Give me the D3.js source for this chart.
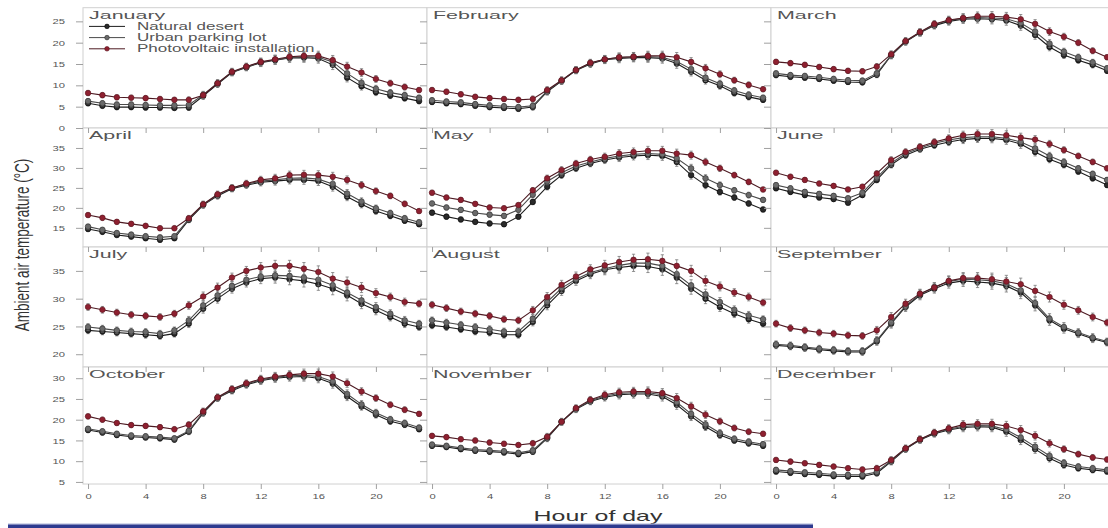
<!DOCTYPE html>
<html lang="en">
<head>
  <meta charset="UTF-8" />
  <title>Ambient air temperature by hour of day</title>
  <script src="https://d3js.org/d3.v7.min.js"></script>
  <style>
    body {
      margin: 0;
      background: #fff;
    }

    svg {
      display: block;
      font-family: "Liberation Sans", Arial, sans-serif;
    }

    .frame {
      fill: #fff;
      stroke: #d0d0d0;
      stroke-width: 1px;
    }

    .axis line {
      stroke: #a0a0a0;
    }

    .axis text {
      fill: #555;
      font-size: 8px;
    }

    .title {
      fill: #555;
      font-size: 11px;
    }

    .legend-text {
      fill: #555;
      font-size: 10px;
    }

    .err {
      stroke: #777;
      stroke-width: 0.8px;
    }
  </style>
</head>
<body>
  <svg id="chart" width="1108" height="528"></svg>

  <script>
    const months = ["January", "February", "March", "April", "May", "June",
                    "July", "August", "September", "October", "November", "December"];
    const hours = [0, 1, 2, 3, 4, 5, 6, 7, 8, 9, 10, 11, 12, 13, 14, 15, 16, 17, 18, 19, 20, 21, 22, 23];
    const hourTicks = [0, 4, 8, 12, 16, 20];

    // one row of 24 hourly means per month
    const naturalDesert = [
      [5.8, 5.2, 4.9, 4.9, 4.8, 4.8, 4.7, 4.8, 7.5, 10.3, 13.0, 14.2, 15.3, 15.9, 16.4, 16.5, 16.3, 14.8, 11.8, 9.8, 8.4, 7.6, 7.0, 6.3],
      [6.1, 5.8, 5.6, 5.2, 4.9, 4.7, 4.5, 4.9, 8.5, 11.0, 13.5, 15.0, 16.0, 16.3, 16.5, 16.5, 16.3, 15.1, 13.2, 11.2, 9.9, 8.2, 7.3, 6.6],
      [12.4, 12.0, 11.8, 11.5, 11.1, 10.8, 10.7, 12.5, 17.0, 20.2, 22.3, 24.0, 25.0, 25.5, 25.6, 25.5, 25.2, 24.0, 21.8, 19.0, 17.1, 15.9, 14.8, 13.4],
      [14.7, 14.0, 13.2, 12.8, 12.4, 12.0, 12.4, 17.0, 20.7, 23.0, 24.8, 25.7, 26.4, 26.7, 27.0, 27.0, 26.7, 25.3, 22.8, 20.9, 19.2, 18.0, 16.8, 15.9],
      [18.8, 17.8, 17.1, 16.5, 16.1, 15.9, 17.8, 21.5, 25.3, 28.2, 29.9, 31.1, 32.0, 32.6, 33.0, 33.2, 33.0, 31.5, 28.2, 25.7, 24.0, 22.6, 21.1, 19.6],
      [24.9, 24.0, 23.2, 22.6, 22.2, 21.3, 23.2, 27.0, 30.8, 33.2, 34.7, 35.7, 36.5, 37.1, 37.4, 37.4, 37.0, 36.0, 34.0, 32.2, 30.8, 29.1, 27.4, 25.7],
      [24.3, 24.1, 23.9, 23.7, 23.5, 23.3, 23.7, 25.5, 28.2, 30.0, 31.8, 32.9, 33.6, 33.8, 33.5, 33.2, 32.6, 31.8, 30.6, 29.1, 27.9, 26.7, 25.5, 24.9],
      [25.2, 24.9, 24.5, 24.1, 23.9, 23.5, 23.5, 25.8, 28.8, 31.4, 33.2, 34.4, 35.2, 35.6, 35.9, 35.8, 35.3, 33.8, 31.8, 30.0, 28.5, 27.3, 26.3, 25.5],
      [21.6, 21.4, 21.1, 20.8, 20.6, 20.4, 20.4, 22.3, 25.5, 28.5, 30.6, 31.8, 32.8, 33.2, 33.0, 32.8, 32.3, 31.1, 28.8, 26.1, 24.6, 23.7, 22.8, 22.1],
      [17.5, 16.9, 16.3, 15.9, 15.7, 15.5, 15.2, 17.1, 21.6, 25.2, 27.0, 28.4, 29.4, 30.0, 30.3, 30.4, 30.0, 28.7, 25.6, 23.2, 21.2, 19.6, 18.8, 17.7],
      [13.7, 13.4, 12.9, 12.5, 12.3, 12.1, 11.7, 12.3, 15.5, 19.5, 22.5, 24.4, 25.4, 26.0, 26.2, 26.2, 25.6, 23.6, 20.8, 18.3, 16.3, 15.0, 14.3, 13.7],
      [7.5, 7.2, 6.9, 6.7, 6.4, 6.3, 6.3, 7.1, 9.9, 12.9, 15.1, 16.6, 17.5, 18.1, 18.3, 18.2, 17.1, 15.1, 12.9, 10.7, 9.1, 8.3, 7.9, 7.5]
    ];

    const parkingLot = [
      [6.3, 5.8, 5.5, 5.5, 5.4, 5.3, 5.3, 5.4, 7.8, 10.5, 13.1, 14.3, 15.4, 16.0, 16.5, 16.7, 16.6, 15.5, 12.8, 10.6, 9.2, 8.3, 7.7, 7.1],
      [6.5, 6.2, 6.0, 5.6, 5.3, 5.1, 4.9, 5.2, 8.7, 11.1, 13.6, 15.2, 16.1, 16.5, 16.7, 16.7, 16.6, 15.6, 13.8, 11.8, 10.4, 8.8, 7.8, 7.1],
      [12.8, 12.4, 12.2, 11.9, 11.5, 11.2, 11.1, 12.8, 17.1, 20.3, 22.4, 24.2, 25.2, 25.7, 25.9, 25.8, 25.6, 24.6, 22.6, 19.8, 17.9, 16.6, 15.4, 14.0],
      [15.3, 14.5, 13.7, 13.3, 12.9, 12.6, 12.9, 17.2, 20.8, 23.2, 25.0, 25.9, 26.7, 27.0, 27.4, 27.5, 27.2, 26.0, 23.6, 21.6, 19.9, 18.7, 17.4, 16.4],
      [21.1, 20.1, 19.5, 18.7, 18.3, 18.0, 19.5, 23.3, 26.6, 28.8, 30.5, 31.5, 32.4, 33.0, 33.4, 33.6, 33.4, 32.4, 29.9, 27.4, 25.7, 24.4, 23.2, 22.0],
      [25.7, 24.9, 24.0, 23.5, 23.0, 22.4, 23.8, 27.6, 31.2, 33.6, 35.0, 36.2, 37.0, 37.6, 37.8, 37.8, 37.4, 36.5, 34.9, 33.0, 31.5, 29.9, 28.5, 27.0],
      [24.9, 24.6, 24.3, 24.1, 24.0, 23.7, 24.3, 26.1, 28.8, 30.6, 32.3, 33.4, 34.0, 34.2, 34.1, 33.8, 33.4, 32.4, 31.1, 29.7, 28.5, 27.3, 26.1, 25.5],
      [26.1, 25.7, 25.3, 24.9, 24.5, 24.1, 24.1, 26.4, 29.4, 31.9, 33.5, 34.7, 35.4, 36.0, 36.4, 36.4, 35.9, 34.4, 32.4, 30.8, 29.4, 28.0, 27.0, 26.3],
      [21.8, 21.6, 21.3, 21.0, 20.8, 20.6, 20.6, 22.5, 25.7, 28.7, 30.8, 32.1, 33.1, 33.5, 33.4, 33.2, 32.7, 31.5, 29.2, 26.4, 24.9, 23.9, 23.0, 22.3],
      [17.8, 17.2, 16.6, 16.2, 16.0, 15.8, 15.5, 17.3, 21.8, 25.3, 27.2, 28.6, 29.6, 30.2, 30.6, 30.7, 30.4, 29.2, 26.2, 23.7, 21.7, 20.1, 19.2, 18.1],
      [14.0, 13.7, 13.2, 12.8, 12.6, 12.4, 12.0, 12.6, 15.7, 19.5, 22.6, 24.6, 25.7, 26.3, 26.5, 26.5, 26.0, 24.2, 21.4, 18.9, 16.8, 15.4, 14.7, 14.1],
      [7.9, 7.6, 7.3, 7.1, 6.8, 6.7, 6.7, 7.4, 10.1, 13.0, 15.2, 16.8, 17.7, 18.4, 18.6, 18.5, 17.6, 15.7, 13.5, 11.3, 9.6, 8.7, 8.3, 7.9]
    ];

    const pvPlant = [
      [8.2, 7.7, 7.2, 7.1, 7.0, 6.8, 6.6, 6.6, 7.7, 10.5, 13.2, 14.4, 15.5, 16.1, 16.7, 16.9, 16.9, 15.9, 14.4, 13.0, 11.5, 10.5, 9.6, 8.9],
      [8.9, 8.5, 7.9, 7.3, 7.0, 6.8, 6.6, 6.8, 8.9, 11.2, 13.6, 15.3, 16.1, 16.6, 16.7, 16.9, 16.9, 16.6, 15.5, 14.0, 12.6, 11.2, 10.1, 9.1],
      [15.5, 15.2, 14.8, 14.3, 13.8, 13.4, 13.3, 14.4, 17.3, 20.4, 22.5, 24.4, 25.3, 25.8, 26.2, 26.2, 26.0, 25.5, 24.4, 22.6, 21.4, 20.0, 18.1, 16.6],
      [18.2, 17.5, 16.5, 16.0, 15.5, 14.9, 14.9, 17.4, 20.9, 23.4, 25.0, 26.1, 27.0, 27.4, 28.2, 28.3, 28.2, 27.8, 27.0, 25.7, 24.2, 23.0, 21.0, 19.2],
      [23.8, 22.6, 22.0, 21.0, 20.1, 19.9, 20.7, 24.4, 27.4, 29.5, 31.1, 32.1, 32.8, 33.6, 34.0, 34.3, 34.3, 33.6, 33.2, 31.5, 29.9, 28.2, 26.5, 24.6],
      [28.8, 27.8, 27.0, 26.1, 25.5, 24.6, 25.3, 28.6, 32.0, 34.0, 35.3, 36.5, 37.4, 38.2, 38.5, 38.5, 38.2, 37.6, 37.1, 36.0, 34.5, 33.0, 31.5, 29.9],
      [28.5, 28.0, 27.5, 27.1, 26.9, 26.7, 27.3, 28.8, 30.4, 32.0, 33.8, 35.0, 35.6, 35.9, 35.9, 35.4, 34.8, 33.6, 32.9, 32.0, 31.0, 30.3, 29.4, 29.1],
      [28.9, 28.3, 27.7, 27.3, 26.9, 26.3, 26.1, 27.9, 30.3, 32.5, 34.0, 35.3, 36.0, 36.6, 37.0, 37.1, 36.8, 35.9, 35.0, 33.2, 32.2, 31.1, 30.3, 29.3],
      [25.5, 24.7, 24.3, 23.9, 23.7, 23.4, 23.3, 24.3, 26.7, 29.1, 30.9, 32.0, 33.2, 33.7, 33.7, 33.5, 33.1, 32.6, 31.4, 30.3, 28.9, 27.9, 26.7, 25.7],
      [20.8, 20.0, 19.2, 18.7, 18.5, 18.2, 17.7, 18.8, 22.0, 25.4, 27.4, 28.8, 29.8, 30.4, 30.8, 31.1, 31.1, 30.4, 28.8, 26.8, 25.2, 23.6, 22.4, 21.4],
      [16.1, 15.8, 15.3, 15.0, 14.5, 14.2, 13.9, 14.3, 15.9, 19.5, 22.8, 24.8, 26.0, 26.6, 26.8, 26.8, 26.4, 25.2, 23.2, 21.2, 19.6, 18.0, 17.1, 16.6],
      [10.3, 9.9, 9.5, 9.1, 8.7, 8.3, 8.0, 8.3, 10.3, 13.1, 15.3, 16.9, 17.9, 18.8, 19.0, 19.0, 18.5, 17.5, 16.1, 14.3, 12.9, 11.7, 10.9, 10.4]
    ];

    // half-length of the error bars, by hour (°C)
    const errByHour = [0.6, 0.6, 0.6, 0.6, 0.6, 0.6, 0.6, 0.7, 0.8, 0.8, 0.8, 0.8, 0.9, 1.0, 1.0, 1.1, 1.1, 1.1, 1.0, 0.9, 0.8, 0.7, 0.7, 0.6];

    // y range and tick labels for each row of panels
    const rowDomains = [[0, 28.2], [10.2, 40], [17.7, 39.3], [4.5, 32.7]];
    const rowTicks = [[0, 5, 10, 15, 20, 25], [15, 20, 25, 30, 35], [20, 25, 30, 35], [5, 10, 15, 20, 25, 30]];

    const seriesNames = ["Natural desert", "Urban parking lot", "Photovoltaic installation"];
    const seriesData = [naturalDesert, parkingLot, pvPlant];
    const seriesStyle = [
      { line: "#1c1c1c", fill: "#2a2a2a", stroke: "#000" },
      { line: "#4a4a4a", fill: "#6a6a6a", stroke: "#2a2a2a" },
      { line: "#4d1a22", fill: "#8e2030", stroke: "#5a121c" }
    ];

    // layout
    const left = 83;
    const panelW = 344;
    const rowTop = [7.7, 128, 247, 367];
    const rowBottom = [128, 247, 367, 484];
    const sxTitle = 1.95, sxTick = 1.4, sxLegend = 1.7;

    const svg = d3.select("#chart");
    const x = d3.scaleLinear().domain([-0.35, 23.55]).range([0, panelW]);

    // frames first so that outward ticks are not covered
    months.forEach((m, i) => {
      const row = Math.floor(i / 3), col = i % 3;
      svg.append("rect")
        .attr("class", "frame")
        .attr("x", left + col * panelW)
        .attr("y", rowTop[row])
        .attr("width", panelW)
        .attr("height", rowBottom[row] - rowTop[row]);
    });

    months.forEach((m, i) => {
      const row = Math.floor(i / 3), col = i % 3;
      const h = rowBottom[row] - rowTop[row];
      const y = d3.scaleLinear().domain(rowDomains[row]).range([h, 0]);
      const g = svg.append("g")
        .attr("transform", `translate(${left + col * panelW},${rowTop[row]})`);

      // left ticks (labels only on first column)
      const ay = g.append("g").attr("class", "axis")
        .call(d3.axisLeft(y).tickValues(rowTicks[row]).tickSize(7).tickPadding(5.9)
          .tickFormat(col === 0 ? d3.format("d") : () => ""))
        .call(a => a.select(".domain").remove());
      ay.selectAll("text").attr("transform", `scale(${sxTick},1)`);

      // bottom ticks (labels only on last row)
      const ax = g.append("g").attr("class", "axis")
        .attr("transform", `translate(0,${h})`)
        .call(d3.axisBottom(x).tickValues(hourTicks).tickSize(5).tickPadding(4)
          .tickFormat(row === 3 ? d3.format("d") : () => ""))
        .call(a => a.select(".domain").remove());
      ax.selectAll("text").attr("transform", `scale(${sxTick},1)`);

      // series: error bars, line, markers
      seriesData.forEach((s, k) => {
        const vals = s[i];
        const st = seriesStyle[k];

        g.selectAll(null)
          .data(hours)
          .join("line")
          .attr("class", "err")
          .attr("x1", d => x(d)).attr("x2", d => x(d))
          .attr("y1", d => y(vals[d] - errByHour[d]))
          .attr("y2", d => y(vals[d] + errByHour[d]));

        g.selectAll(null)
          .data(hours.flatMap(d => [vals[d] - errByHour[d], vals[d] + errByHour[d]].map(v => [d, v])))
          .join("line")
          .attr("class", "err")
          .attr("x1", d => x(d[0]) - 1.6).attr("x2", d => x(d[0]) + 1.6)
          .attr("y1", d => y(d[1])).attr("y2", d => y(d[1]));

        g.append("path")
          .datum(hours)
          .attr("fill", "none")
          .attr("stroke", st.line)
          .attr("stroke-width", 1.1)
          .attr("d", d3.line().x(d => x(d)).y(d => y(vals[d])));

        g.selectAll(null)
          .data(hours)
          .join("circle")
          .attr("cx", d => x(d))
          .attr("cy", d => y(vals[d]))
          .attr("r", 2.8)
          .attr("fill", st.fill)
          .attr("stroke", st.stroke)
          .attr("stroke-width", 0.6);
      });

      // month title
      g.append("text")
        .attr("class", "title")
        .attr("transform", `translate(6,10.8) scale(${sxTitle},1)`)
        .text(m);
    });

    // legend inside the January panel
    const legend = svg.append("g").attr("transform", `translate(${left},0)`);
    const legendY = [26.4, 37.6, 48.8];
    seriesNames.forEach((name, k) => {
      const st = seriesStyle[k];
      legend.append("line")
        .attr("x1", 6).attr("x2", 42)
        .attr("y1", legendY[k]).attr("y2", legendY[k])
        .attr("stroke", st.line).attr("stroke-width", 1);
      legend.append("circle")
        .attr("cx", 24).attr("cy", legendY[k]).attr("r", 2.3)
        .attr("fill", st.fill).attr("stroke", st.stroke).attr("stroke-width", 0.6);
      legend.append("text")
        .attr("class", "legend-text")
        .attr("transform", `translate(54,${legendY[k] + 3.6}) scale(${sxLegend},1)`)
        .text(name);
    });

    // axis titles
    svg.append("text")
      .attr("transform", "translate(29,245) scale(1.5,1) rotate(-90)")
      .attr("text-anchor", "middle")
      .style("font-size", "13.5px")
      .style("fill", "#333")
      .text("Ambient air temperature (°C)");

    svg.append("text")
      .attr("transform", "translate(598,521) scale(1.78,1)")
      .attr("text-anchor", "middle")
      .style("font-size", "14px")
      .style("fill", "#333")
      .text("Hour of day");

    // blue rule along the bottom edge
    svg.append("rect").attr("x", 8).attr("y", 523.5).attr("width", 805).attr("height", 1).attr("fill", "#aab2d8");
    svg.append("rect").attr("x", 8).attr("y", 524.5).attr("width", 805).attr("height", 3.5).attr("fill", "#2d3a8f");
  </script>
</body>
</html>
